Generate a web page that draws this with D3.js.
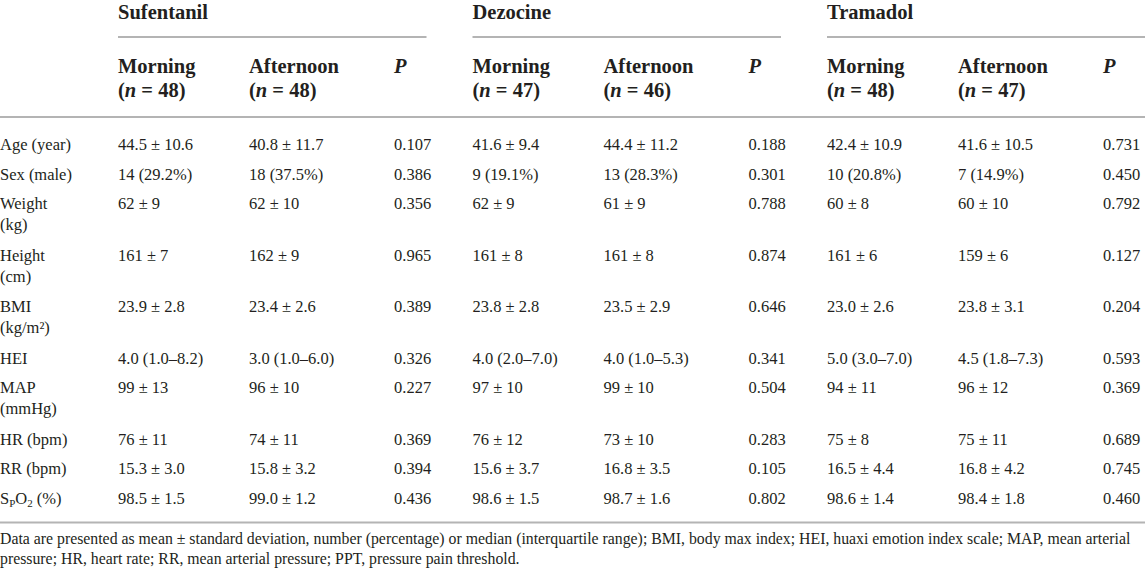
<!DOCTYPE html>
<html>
<head>
<meta charset="utf-8">
<style>
  html, body { margin: 0; padding: 0; background: #fff; }
  svg text { font-family: "Liberation Serif", "DejaVu Serif", serif; fill: #231f20; }
  .grp, .sub { font-weight: bold; font-size: 20.5px; }
  .cell, .lab { font-size: 16.5px; }
  .note { font-size: 15.8px; }
  .rule { stroke: #b4b4b4; stroke-width: 1.8; }
</style>
<title>Baseline characteristics</title>
</head>
<body>
<script src="https://cdn.jsdelivr.net/npm/d3@7"></script>
<script>
// table content
var groups = ["Sufentanil", "Dezocine", "Tramadol"]
var periods = ["Morning", "Afternoon"]
var groupN = [[48, 48], [47, 46], [48, 47]]

var rowLabels = [
    ["Age (year)"], ["Sex (male)"], ["Weight", "(kg)"], ["Height", "(cm)"],
    ["BMI", "(kg/m²)"], ["HEI"], ["MAP", "(mmHg)"], ["HR (bpm)"], ["RR (bpm)"], ["SPO2 (%)"]
]

var sufentanilMorning = ["44.5 ± 10.6", "14 (29.2%)", "62 ± 9", "161 ± 7", "23.9 ± 2.8", "4.0 (1.0–8.2)", "99 ± 13", "76 ± 11", "15.3 ± 3.0", "98.5 ± 1.5"]
var sufentanilAfternoon = ["40.8 ± 11.7", "18 (37.5%)", "62 ± 10", "162 ± 9", "23.4 ± 2.6", "3.0 (1.0–6.0)", "96 ± 10", "74 ± 11", "15.8 ± 3.2", "99.0 ± 1.2"]
var sufentanilP = [0.107, 0.386, 0.356, 0.965, 0.389, 0.326, 0.227, 0.369, 0.394, 0.436]

var dezocineMorning = ["41.6 ± 9.4", "9 (19.1%)", "62 ± 9", "161 ± 8", "23.8 ± 2.8", "4.0 (2.0–7.0)", "97 ± 10", "76 ± 12", "15.6 ± 3.7", "98.6 ± 1.5"]
var dezocineAfternoon = ["44.4 ± 11.2", "13 (28.3%)", "61 ± 9", "161 ± 8", "23.5 ± 2.9", "4.0 (1.0–5.3)", "99 ± 10", "73 ± 10", "16.8 ± 3.5", "98.7 ± 1.6"]
var dezocineP = [0.188, 0.301, 0.788, 0.874, 0.646, 0.341, 0.504, 0.283, 0.105, 0.802]

var tramadolMorning = ["42.4 ± 10.9", "10 (20.8%)", "60 ± 8", "161 ± 6", "23.0 ± 2.6", "5.0 (3.0–7.0)", "94 ± 11", "75 ± 8", "16.5 ± 4.4", "98.6 ± 1.4"]
var tramadolAfternoon = ["41.6 ± 10.5", "7 (14.9%)", "60 ± 10", "159 ± 6", "23.8 ± 3.1", "4.5 (1.8–7.3)", "96 ± 12", "75 ± 11", "16.8 ± 4.2", "98.4 ± 1.8"]
var tramadolP = [0.731, 0.450, 0.792, 0.127, 0.204, 0.593, 0.369, 0.689, 0.745, 0.460]

var footnote = [
    "Data are presented as mean ± standard deviation, number (percentage) or median (interquartile range); BMI, body max index; HEI, huaxi emotion index scale; MAP, mean arterial",
    "pressure; HR, heart rate; RR, mean arterial pressure; PPT, pressure pain threshold."
]

var groupCols = [
    [sufentanilMorning, sufentanilAfternoon, sufentanilP],
    [dezocineMorning, dezocineAfternoon, dezocineP],
    [tramadolMorning, tramadolAfternoon, tramadolP]
]

// layout
var width = 1145, height = 570,
    groupBase = 19, groupRuleY = 37,
    subBase = 73, subLine = 24, headRuleY = 117,
    firstBase = 150, singleRow = 29.5, lineStep = 21, extraLine = 22,
    bottomGap = 19, noteStep = 20

var fmtP = d3.format(".3f")

var svg = d3.select("body").append("svg")
    .attr("width", width)
    .attr("height", height)

var groupX = d3.scalePoint()
    .domain(groups)
    .range([118, 827])

var colX = d3.scaleOrdinal()
    .domain(["Morning", "Afternoon", "P"])
    .range([0, 131, 276])

// row baselines: two-line rows take an extra line
var rowBase = []
var y = firstBase
rowLabels.forEach(function (lab, i) {
    rowBase.push(y)
    y += singleRow + (lab.length - 1) * extraLine
})
var lastRowEnd = rowBase[rowBase.length - 1]
var bottomRuleY = lastRowEnd + bottomGap

// group headings and their rules
svg.selectAll("text.grp")
    .data(groups)
    .enter().append("text")
    .attr("class", "grp")
    .attr("x", d => groupX(d))
    .attr("y", groupBase)
    .text(d => d)

svg.selectAll("line.grp-rule")
    .data(groups)
    .enter().append("line")
    .attr("class", "rule grp-rule")
    .attr("x1", d => groupX(d))
    .attr("x2", (d, i) => i < groups.length - 1 ? groupX(groups[i + 1]) - 46 : width)
    .attr("y1", groupRuleY)
    .attr("y2", groupRuleY)

// sub headings
groups.forEach(function (g, gi) {
    periods.forEach(function (p, pi) {
        var t = svg.append("text")
            .attr("class", "sub")
            .attr("x", groupX(g) + colX(p))
            .attr("y", subBase)
        t.append("tspan").text(p)
        var t2 = svg.append("text")
            .attr("class", "sub")
            .attr("x", groupX(g) + colX(p))
            .attr("y", subBase + subLine)
        t2.append("tspan").text("(")
        t2.append("tspan").attr("font-style", "italic").text("n")
        t2.append("tspan").text(" = " + groupN[gi][pi] + ")")
    })
    svg.append("text")
        .attr("class", "sub")
        .attr("x", groupX(g) + colX("P"))
        .attr("y", subBase)
        .attr("font-style", "italic")
        .text("P")
})

svg.append("line")
    .attr("class", "rule")
    .attr("x1", 0).attr("x2", width)
    .attr("y1", headRuleY).attr("y2", headRuleY)

// row labels
rowLabels.forEach(function (lab, i) {
    lab.forEach(function (line, li) {
        var t = svg.append("text")
            .attr("class", "lab")
            .attr("x", 0)
            .attr("y", rowBase[i] + li * lineStep)
        if (line.indexOf("SPO2") === 0) {
            t.append("tspan").text("S")
            t.append("tspan").attr("font-size", "11px").attr("dy", 3).text("P")
            t.append("tspan").attr("dy", -3).text("O")
            t.append("tspan").attr("font-size", "11px").attr("dy", 3).text("2")
            t.append("tspan").attr("dy", -3).text(" (%)")
        } else {
            t.text(line)
        }
    })
})

// body cells
groups.forEach(function (g, gi) {
    var cols = groupCols[gi]
    ;["Morning", "Afternoon", "P"].forEach(function (c, ci) {
        svg.selectAll("text.cell-" + gi + "-" + ci)
            .data(cols[ci])
            .enter().append("text")
            .attr("class", "cell cell-" + gi + "-" + ci)
            .attr("x", groupX(g) + colX(c))
            .attr("y", (d, i) => rowBase[i])
            .text(d => typeof d === "number" ? fmtP(d) : d)
    })
})

svg.append("line")
    .attr("class", "rule")
    .attr("x1", 0).attr("x2", width)
    .attr("y1", bottomRuleY).attr("y2", bottomRuleY)

// footnote
svg.selectAll("text.note")
    .data(footnote)
    .enter().append("text")
    .attr("class", "note")
    .attr("x", 0)
    .attr("y", (d, i) => bottomRuleY + 21 + i * noteStep)
    .text(d => d)
</script>
</body>
</html>
